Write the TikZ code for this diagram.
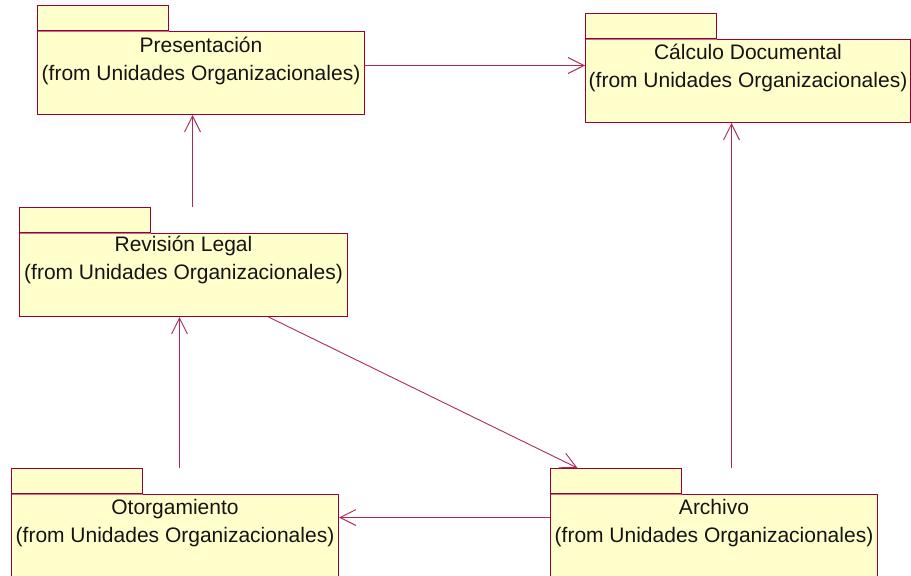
\documentclass[tikz,border=0pt]{standalone}
\usepackage{fontspec}
\setmainfont{Liberation Sans}
\usetikzlibrary{arrows.meta}
\definecolor{pkgfill}{RGB}{255,255,204}
\definecolor{pkgline}{RGB}{153,0,51}
\definecolor{tabsep}{RGB}{200,110,140}
\definecolor{depline}{RGB}{176,40,90}
\definecolor{pkgtext}{RGB}{20,20,20}
\tikzset{
  pkgbody/.style={draw=pkgline, fill=pkgfill, line width=1pt, rectangle,
    anchor=north west, inner sep=0pt, minimum width=#1, minimum height=83pt},
  pkgtab/.style={draw=pkgline, fill=pkgfill, line width=1pt, rectangle,
    anchor=south west, inner sep=0pt, minimum width=131pt, minimum height=25pt},
  pkglabel/.style={text=pkgtext, align=center, inner sep=0pt,
    font=\fontsize{21}{27.5}\selectfont},
  dep/.style={draw=depline, line width=0.9pt,
    -{Straight Barb[length=16pt,width=16pt,line width=0.9pt]}}
}
\begin{document}
\begin{tikzpicture}[x=1pt,y=-1pt]
\useasboundingbox (0,0) rectangle (911,576);

% package bodies
\node[pkgbody=327pt] (pres) at (37,31) {};
\node[pkgbody=325pt] (calc) at (585,39) {};
\node[pkgbody=328pt] (rev)  at (19,233) {};
\node[pkgbody=327pt] (otor) at (11,494) {};
\node[pkgbody=327pt] (arch) at (550,494) {};

% package tabs
\node[pkgtab] (prestab) at (pres.north west) {};
\node[pkgtab] (calctab) at (calc.north west) {};
\node[pkgtab] (revtab)  at (rev.north west) {};
\node[pkgtab] (otortab) at (otor.north west) {};
\node[pkgtab] (archtab) at (arch.north west) {};

% lighter seam where each tab meets its body
\foreach \p in {pres,calc,rev,otor,arch}
  \draw[tabsep, line width=1pt] ([xshift=0.5pt]\p tab.south west) -- ([xshift=-0.5pt]\p tab.south east);

% package names
\node[pkglabel] (presT) at ([yshift=-30pt]pres.north) {Presentación\\(from Unidades Organizacionales)};
\node[pkglabel] (calcT) at ([yshift=-29pt]calc.north) {Cálculo Documental\\(from Unidades Organizacionales)};
\node[pkglabel] (revT)  at ([yshift=-27pt]rev.north) {Revisión Legal\\(from Unidades Organizacionales)};
\node[pkglabel] (otorT) at ([yshift=-29pt]otor.north) {Otorgamiento\\(from Unidades Organizacionales)};
\node[pkglabel] (archT) at ([yshift=-29pt]arch.north) {Archivo\\(from Unidades Organizacionales)};

% dependencies
\draw[dep] ([yshift=7.5pt]pres.east) -- ([yshift=7.5pt]pres.east -| calc.west);
\draw[dep] ([xshift=-8.5pt]pres.south |- revtab.north) -- ([xshift=-8.5pt]pres.south);
\draw[dep] ([xshift=-4pt]rev.south |- otortab.north) -- ([xshift=-4pt]rev.south);
\draw[dep] ([xshift=85pt]rev.south) -- ([xshift=-38.5pt]archtab.north);
\draw[dep] ([yshift=18.5pt]arch.west) -- ([yshift=18.5pt]arch.west -| otor.east);
\draw[dep] ([xshift=-16.5pt]calc.south |- archtab.north) -- ([xshift=-16.5pt]calc.south);
\end{tikzpicture}
\end{document}
